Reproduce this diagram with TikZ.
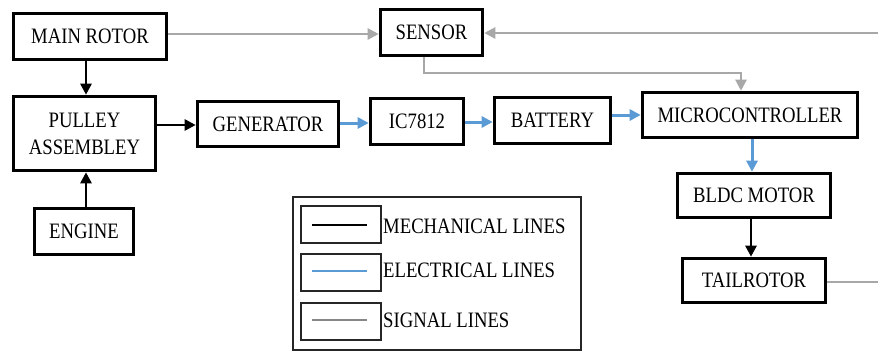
\documentclass[tikz,border=0pt]{standalone}
\usepackage{fontspec}
\setmainfont[FakeStretch=0.85]{Liberation Serif}
\newfontfamily\diagfont[FakeStretch=0.85]{Liberation Serif}
\usetikzlibrary{arrows.meta}
\definecolor{elblue}{RGB}{91,155,213}
\definecolor{siggray}{RGB}{168,168,168}
\definecolor{leggray}{RGB}{135,135,135}
\newcommand{\bt}[1]{{\diagfont\fontsize{22}{27}\selectfont #1}}
\begin{document}
\begin{tikzpicture}[x=1pt,y=-1pt,
  blk/.style={draw=black,line width=3.6pt,inner sep=0pt},
  tip/.style={-{Triangle[length=11pt,width=11pt]}},
  mech/.style={tip,draw=black,line width=2.6pt},
  elec/.style={tip,draw=elblue,line width=3pt},
  sig/.style={tip,draw=siggray,line width=2.4pt},
  legbox/.style={draw=black!85,line width=1.5pt},
  legtxt/.style={anchor=west,inner sep=0pt}]
\useasboundingbox (0,0) rectangle (878,351);
\fill[white] (0,0) rectangle (878,351);

\node[blk,minimum width=153pt,minimum height=46pt] (main) at (90,36.5) {\bt{MAIN ROTOR}};
\node[blk,minimum width=142pt,minimum height=74pt,align=center,font=\diagfont\fontsize{22}{27}\selectfont] (pulley) at (84.5,133.5) {PULLEY\\ASSEMBLEY};
\node[blk,minimum width=99pt,minimum height=46pt] (engine) at (84,231.5) {\bt{ENGINE}};
\node[blk,minimum width=141pt,minimum height=45pt] (gen) at (268,124) {\bt{GENERATOR}};
\node[blk,minimum width=93pt,minimum height=46pt] (ic) at (417,121.5) {\bt{IC7812}};
\node[blk,minimum width=116pt,minimum height=46pt] (bat) at (552.5,120.5) {\bt{BATTERY}};
\node[blk,minimum width=102pt,minimum height=46pt] (sensor) at (431.5,32.5) {\bt{SENSOR}};
\node[blk,minimum width=215pt,minimum height=45pt] (micro) at (750,115) {\bt{MICROCONTROLLER}};
\node[blk,minimum width=153pt,minimum height=44pt] (bldc) at (754,195.5) {\bt{BLDC MOTOR}};
\node[blk,minimum width=143pt,minimum height=44pt] (tail) at (754,280.5) {\bt{TAILROTOR}};

\coordinate (rin) at (878,33);
\coordinate (rout) at (878,282);
\coordinate (bend1) at (424,73);
\coordinate (bend2) at (741,73);

% mechanical
\draw[mech] (main.south -| 86,0) -- (pulley.north -| 86,0);
\draw[mech] (engine.north -| 86,0) -- (pulley.south -| 86,0);
\draw[mech] (pulley.east |- 0,125) -- (gen.west |- 0,125);
\draw[mech] (bldc.south -| 751,0) -- (tail.north -| 751,0);
% electrical
\draw[elec] (gen.east |- 0,123) -- (ic.west |- 0,123);
\draw[elec] (ic.east |- 0,122) -- (bat.west |- 0,122);
\draw[elec] (bat.east |- 0,115) -- (micro.west |- 0,115);
\draw[elec] (micro.south -| 752,0) -- (bldc.north -| 752,0);
% signal
\draw[sig] (main.east |- 0,34) -- (sensor.west |- 0,34);
\draw[sig] (rin) -- (sensor.east |- rin);
\draw[sig] (sensor.south -| bend1) -- (bend1) -- (bend2) -- (micro.north -| bend2);
\draw[draw=siggray,line width=1.3pt] (tail.east |- rout) -- (rout);

% legend
\draw[legbox] (293,197) rectangle (581,350);
\draw[legbox] (301,206) rectangle (381,243);
\draw[legbox] (301,254) rectangle (381,291);
\draw[legbox] (301,303) rectangle (381,340);
\draw[black,line width=2.8pt] (312,225) -- (367,225);
\draw[elblue,line width=2.8pt] (312,271) -- (367,271);
\draw[leggray,line width=2.8pt] (312,320) -- (367,320);
\node[legtxt] (l1) at (383,226) {\bt{MECHANICAL LINES}};
\node[legtxt] (l2) at (383,270) {\bt{ELECTRICAL LINES}};
\node[legtxt] (l3) at (383,320) {\bt{SIGNAL LINES}};
\end{tikzpicture}
\end{document}
